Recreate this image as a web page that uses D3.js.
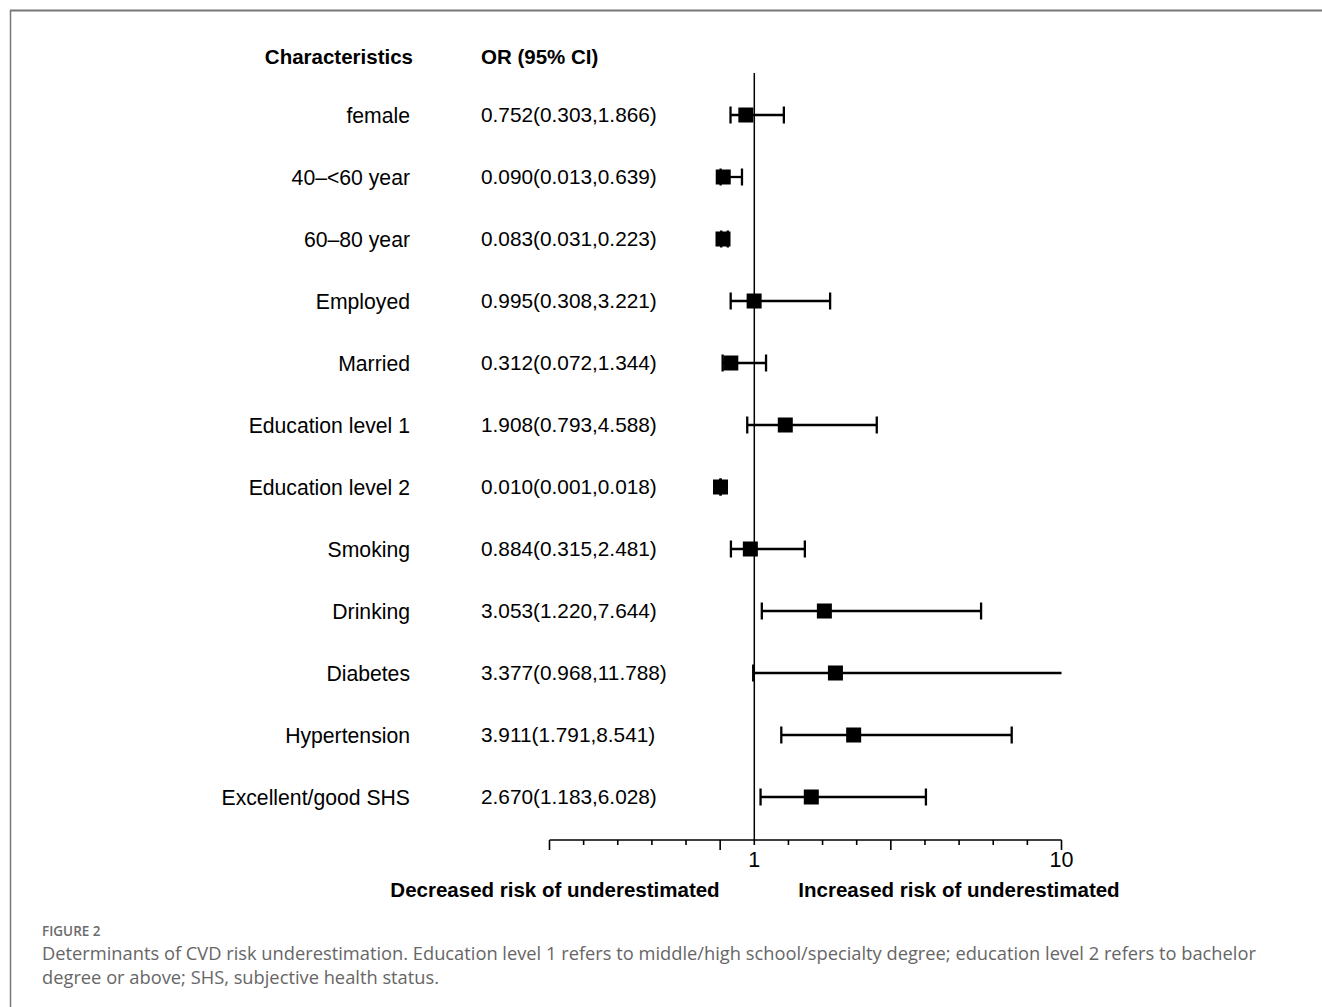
<!DOCTYPE html>
<html>
<head>
<meta charset="utf-8">
<script src="https://cdn.jsdelivr.net/npm/d3@7"></script>
<style>
  body { margin: 0; background: #fff; }
  svg { display: block; }
</style>
</head>
<body>
<svg id="chart" width="1322" height="1007"></svg>
<script>
const categories = ["female", "40–<60 year", "60–80 year", "Employed", "Married", "Education level 1",
  "Education level 2", "Smoking", "Drinking", "Diabetes", "Hypertension", "Excellent/good SHS"];
const orValues = [0.752, 0.090, 0.083, 0.995, 0.312, 1.908, 0.010, 0.884, 3.053, 3.377, 3.911, 2.670];
const ciLower  = [0.303, 0.013, 0.031, 0.308, 0.072, 0.793, 0.001, 0.315, 1.220, 0.968, 1.791, 1.183];
const ciUpper  = [1.866, 0.639, 0.223, 3.221, 1.344, 4.588, 0.018, 2.481, 7.644, 11.788, 8.541, 6.028];
const orLabels = ["0.752(0.303,1.866)", "0.090(0.013,0.639)", "0.083(0.031,0.223)", "0.995(0.308,3.221)",
  "0.312(0.072,1.344)", "1.908(0.793,4.588)", "0.010(0.001,0.018)", "0.884(0.315,2.481)",
  "3.053(1.220,7.644)", "3.377(0.968,11.788)", "3.911(1.791,8.541)", "2.670(1.183,6.028)"];
const tickValues = d3.range(-5, 11, 1);
const tickLabels = {1: "1", 10: "10"};
const majorTicks = [-5, 0, 5, 10];
const captionTitle = "FIGURE 2";
const captionLines = [
  "Determinants of CVD risk underestimation. Education level 1 refers to middle/high school/specialty degree; education level 2 refers to bachelor",
  "degree or above; SHS, subjective health status."
];

const data = categories.map((c, i) => ({cat: c, or: orValues[i], lo: ciLower[i], hi: ciUpper[i], label: orLabels[i]}));

const svg = d3.select("#chart");
const font = "'Liberation Sans', Arial, sans-serif";

// frame
svg.append("line").attr("x1", 10).attr("x2", 1322).attr("y1", 10.5).attr("y2", 10.5)
  .attr("stroke", "#777").attr("stroke-width", 2);
svg.append("line").attr("x1", 10.5).attr("x2", 10.5).attr("y1", 10).attr("y2", 1007)
  .attr("stroke", "#777").attr("stroke-width", 1.5);

const x = d3.scaleLinear().domain([-5, 10]).range([549.5, 1061.5]);
const y = d3.scalePoint().domain(categories).range([115, 797]);
const axisY = 840;

// headers
svg.append("text").attr("x", 413).attr("y", 56).attr("text-anchor", "end").attr("dominant-baseline", "central")
  .attr("font-family", font).attr("font-weight", "bold").attr("font-size", 20.5).text("Characteristics");
svg.append("text").attr("x", 481).attr("y", 56).attr("text-anchor", "start").attr("dominant-baseline", "central")
  .attr("font-family", font).attr("font-weight", "bold").attr("font-size", 20.5).text("OR (95% CI)");

// row labels
svg.append("g").selectAll("text").data(data).join("text")
  .attr("x", 410).attr("y", d => y(d.cat)).attr("text-anchor", "end").attr("dominant-baseline", "central")
  .attr("font-family", font).attr("font-size", 21.2).attr("fill", "#000").text(d => d.cat);
svg.append("g").selectAll("text").data(data).join("text")
  .attr("x", 481).attr("y", d => y(d.cat) - 1).attr("text-anchor", "start").attr("dominant-baseline", "central")
  .attr("font-family", font).attr("font-size", 20.8).attr("fill", "#000").text(d => d.label);

// reference line at 1
svg.append("line").attr("x1", x(1)).attr("x2", x(1)).attr("y1", 73).attr("y2", axisY)
  .attr("stroke", "#000").attr("stroke-width", 1.5);

// axis
const axisG = svg.append("g").attr("transform", `translate(0,${axisY})`);
axisG.append("line").attr("x1", x(-5)).attr("x2", x(10)).attr("y1", 0).attr("y2", 0)
  .attr("stroke", "#000").attr("stroke-width", 1.6);
axisG.selectAll("line.tick").data(tickValues).join("line").attr("class", "tick")
  .attr("x1", d => x(d)).attr("x2", d => x(d)).attr("y1", 0)
  .attr("y2", d => majorTicks.includes(d) ? 10 : 5)
  .attr("stroke", "#000").attr("stroke-width", 1.6);
axisG.selectAll("text").data(tickValues.filter(d => tickLabels[d])).join("text")
  .attr("x", d => x(d)).attr("y", 20).attr("text-anchor", "middle").attr("dominant-baseline", "central")
  .attr("font-family", font).attr("font-size", 21.5).text(d => tickLabels[d]);

// bottom labels
svg.append("text").attr("x", 555).attr("y", 889).attr("text-anchor", "middle").attr("dominant-baseline", "central")
  .attr("font-family", font).attr("font-weight", "bold").attr("font-size", 20.5).text("Decreased risk of underestimated");
svg.append("text").attr("x", 959).attr("y", 889).attr("text-anchor", "middle").attr("dominant-baseline", "central")
  .attr("font-family", font).attr("font-weight", "bold").attr("font-size", 20.5).text("Increased risk of underestimated");

// error bars
const [dmin, dmax] = x.domain();
const capH = 8.5;
const rows = svg.append("g").selectAll("g").data(data).join("g");
rows.append("line")
  .attr("x1", d => x(Math.max(d.lo, dmin))).attr("x2", d => x(Math.min(d.hi, dmax)))
  .attr("y1", d => y(d.cat)).attr("y2", d => y(d.cat))
  .attr("stroke", "#000").attr("stroke-width", 2.3);
rows.filter(d => d.lo >= dmin).append("line")
  .attr("x1", d => x(d.lo)).attr("x2", d => x(d.lo))
  .attr("y1", d => y(d.cat) - capH).attr("y2", d => y(d.cat) + capH)
  .attr("stroke", "#000").attr("stroke-width", 2.3);
rows.filter(d => d.hi <= dmax).append("line")
  .attr("x1", d => x(d.hi)).attr("x2", d => x(d.hi))
  .attr("y1", d => y(d.cat) - capH).attr("y2", d => y(d.cat) + capH)
  .attr("stroke", "#000").attr("stroke-width", 2.3);
rows.append("rect")
  .attr("x", d => x(d.or) - 7.5).attr("y", d => y(d.cat) - 7.5)
  .attr("width", 15).attr("height", 15).attr("fill", "#000");

// caption
const capFont = "'Open Sans', 'Noto Sans', sans-serif";
svg.append("text").attr("x", 42).attr("y", 936).attr("font-family", capFont).attr("font-size", 13.5)
  .attr("font-weight", 600).attr("fill", "#6b6b6b").text(captionTitle);
svg.append("g").selectAll("text").data(captionLines).join("text")
  .attr("x", 42).attr("y", (d, i) => 960 + i * 24)
  .attr("font-family", capFont).attr("font-size", 18.3).attr("fill", "#666").text(d => d);
</script>
</body>
</html>
